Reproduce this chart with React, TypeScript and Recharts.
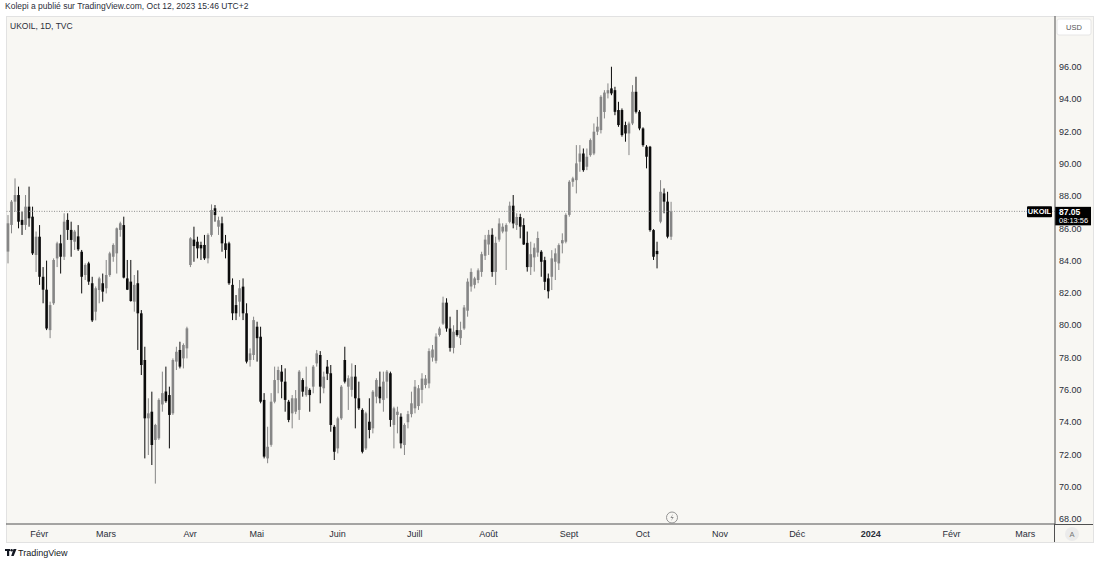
import React from "react";
import { Bar, ComposedChart, ReferenceLine, XAxis, YAxis } from "recharts";

// UKOIL daily candles (USD)
const opens = [
  84.56, 86.21, 87.65, 88.06, 86.52, 86.21, 87.34, 86.72, 84.35, 85.48,
  83.0, 82.2, 79.7, 81.36, 84.14, 85.07, 84.24, 86.52, 85.9, 85.17,
  85.5, 84.55, 83.11, 83.83, 82.6, 80.84, 82.18, 82.6, 82.29, 83.11,
  84.24, 84.45, 85.9, 86.2, 82.9, 82.7, 81.46, 82.6, 80.74, 77.85,
  74.24, 74.65, 72.9, 73.0, 75.1, 75.9, 75.68, 74.55, 77.75, 78.47,
  77.95, 78.57, 83.73, 85.3, 85.17, 84.97, 84.97, 84.14, 85.59, 87.24,
  86.1, 86.31, 85.07, 85.07, 82.5, 81.25, 81.46, 82.39, 80.74, 77.85,
  78.16, 79.91, 79.29, 75.38, 71.76, 72.6, 75.27, 76.61, 77.13, 76.51,
  75.27, 74.55, 74.65, 74.76, 76.61, 75.68, 76.0, 76.2, 77.64, 78.16,
  76.1, 77.44, 77.03, 73.72, 72.38, 74.24, 77.85, 76.2, 76.0, 76.82,
  75.48, 74.76, 72.38, 74.03, 73.62, 75.58, 76.2, 75.38, 76.51, 77.03,
  73.83, 74.45, 74.34, 72.59, 74.0, 74.5, 74.86, 75.0, 76.0, 76.3,
  76.4, 78.0, 77.8, 79.4, 80.1, 81.4, 79.8, 78.6, 79.7, 79.2,
  79.8, 80.9, 82.4, 82.5, 82.8, 83.3, 84.3, 85.0, 85.6, 83.3,
  85.3, 85.8, 85.8, 86.4, 87.4, 86.2, 86.7, 86.2, 85.1, 83.6,
  84.2, 84.5, 84.55, 84.03, 82.9, 83.0, 83.93, 83.83, 85.07, 85.17,
  86.83, 88.88, 88.98, 90.12, 90.63, 89.81, 90.53, 90.63, 91.98, 92.08,
  93.2, 94.35, 94.66, 94.55, 93.32, 93.32, 92.39, 91.87, 92.49, 94.45,
  93.21, 92.18, 91.05, 91.05, 85.89, 84.6, 86.41, 88.16, 87.65, 85.48,
];
const highs = [
  86.82, 87.75, 89.09, 88.58, 87.03, 88.06, 88.58, 87.34, 85.8, 86.2,
  83.6, 84.0, 81.46, 84.14, 85.17, 85.6, 86.93, 86.93, 86.41, 85.9,
  86.2, 84.66, 83.83, 83.93, 83.0, 82.4, 83.0, 83.2, 84.04, 84.55,
  85.07, 86.05, 86.41, 86.72, 84.04, 84.04, 83.11, 83.4, 80.94, 78.67,
  75.48, 75.89, 73.9, 75.48, 77.13, 77.44, 76.2, 77.95, 78.67, 78.98,
  78.88, 79.91, 85.45, 86.1, 85.48, 85.17, 85.59, 85.69, 87.48, 87.44,
  86.72, 86.72, 85.59, 85.17, 82.9, 81.87, 82.8, 82.9, 81.36, 78.57,
  80.53, 80.22, 79.91, 75.8, 73.72, 75.8, 77.44, 77.44, 77.54, 77.33,
  75.38, 75.68, 75.99, 77.23, 76.72, 77.44, 76.1, 77.54, 78.47, 78.4,
  77.13, 77.85, 77.54, 73.83, 74.34, 76.3, 78.67, 76.9, 77.64, 77.54,
  76.51, 74.86, 74.65, 75.48, 75.99, 76.72, 77.13, 77.13, 77.23, 77.13,
  74.96, 74.96, 74.55, 73.93, 74.7, 75.89, 76.61, 76.3, 77.03, 76.92,
  78.57, 78.78, 79.5, 79.91, 81.77, 81.67, 80.53, 80.0, 80.95, 80.22,
  81.25, 82.9, 83.52, 83.0, 83.52, 84.55, 85.59, 85.9, 86.0, 85.48,
  86.62, 86.31, 86.31, 87.65, 88.06, 86.93, 86.9, 86.62, 85.8, 85.17,
  85.07, 85.8, 84.65, 84.24, 83.2, 84.65, 84.76, 85.07, 85.69, 86.93,
  88.98, 89.19, 91.15, 91.15, 90.94, 90.94, 91.56, 92.49, 92.9, 94.24,
  94.55, 94.97, 96.0, 94.76, 93.83, 93.42, 92.6, 92.6, 94.86, 95.38,
  93.32, 92.25, 91.15, 91.1, 85.95, 85.17, 88.98, 88.47, 88.26, 87.64,
];
const lows = [
  83.83, 85.69, 87.03, 86.0, 85.59, 85.9, 86.1, 84.35, 83.3, 82.5,
  81.36, 79.7, 79.2, 81.26, 83.6, 83.2, 84.04, 85.28, 84.24, 84.66,
  84.6, 81.97, 82.8, 82.5, 80.2, 80.3, 81.36, 81.46, 81.97, 83.0,
  83.93, 83.2, 85.48, 82.9, 82.18, 81.46, 80.84, 78.47, 76.92, 71.76,
  71.97, 71.35, 70.2, 72.9, 74.65, 75.2, 72.38, 74.45, 77.23, 77.33,
  77.33, 77.95, 83.6, 83.93, 84.14, 84.04, 84.04, 83.83, 85.48, 86.41,
  85.59, 84.55, 84.14, 82.5, 80.32, 80.32, 80.53, 80.32, 77.64, 77.44,
  77.85, 77.75, 75.17, 71.76, 71.46, 72.48, 75.17, 75.79, 75.48, 74.65,
  74.0, 73.62, 74.5, 74.14, 75.58, 75.58, 74.65, 75.79, 77.44, 75.17,
  75.79, 76.61, 73.41, 71.66, 72.07, 74.14, 76.4, 74.76, 75.58, 73.62,
  74.76, 72.07, 72.28, 73.0, 73.31, 75.17, 75.17, 74.65, 75.48, 73.72,
  72.38, 73.31, 72.38, 71.97, 73.62, 74.3, 74.55, 74.76, 75.17, 76.1,
  76.1, 77.75, 77.64, 79.3, 80.02, 79.6, 78.37, 78.26, 79.3, 78.78,
  79.71, 80.53, 82.08, 82.28, 82.6, 83.0, 84.04, 84.35, 83.0, 82.49,
  85.17, 85.69, 83.42, 86.31, 86.0, 85.9, 85.38, 84.97, 83.32, 83.11,
  83.32, 84.24, 83.0, 82.18, 81.66, 82.18, 82.8, 83.42, 84.45, 85.07,
  86.72, 88.57, 88.16, 89.5, 89.5, 89.6, 90.43, 90.53, 91.77, 91.87,
  92.8, 94.04, 94.24, 93.0, 92.28, 91.67, 91.36, 90.53, 92.39, 93.11,
  92.07, 91.05, 89.71, 85.79, 84.04, 83.52, 86.31, 86.93, 85.38, 85.28,
];
const closes = [
  86.31, 87.65, 88.06, 86.41, 86.21, 87.34, 86.62, 84.45, 85.48, 83.0,
  82.2, 79.8, 81.25, 84.04, 85.07, 84.24, 86.41, 85.9, 85.28, 85.8,
  84.7, 83.0, 83.73, 82.7, 80.3, 82.29, 82.9, 82.08, 83.11, 84.45,
  84.97, 86.0, 86.31, 82.95, 82.2, 81.5, 82.5, 80.74, 77.54, 74.24,
  74.55, 72.59, 73.83, 75.38, 75.8, 75.3, 74.45, 77.85, 78.36, 77.44,
  78.78, 79.81, 85.38, 84.9, 84.76, 84.76, 84.14, 85.59, 87.13, 86.82,
  86.5, 85.07, 84.66, 82.6, 80.74, 80.74, 82.29, 80.74, 77.75, 78.26,
  80.32, 79.2, 75.27, 71.87, 72.48, 75.27, 76.61, 77.23, 76.51, 75.38,
  74.14, 75.48, 75.48, 77.13, 75.89, 76.2, 75.68, 77.44, 78.26, 76.2,
  76.82, 77.0, 73.83, 72.17, 74.24, 76.2, 76.51, 76.72, 76.82, 75.48,
  74.86, 72.17, 74.55, 73.52, 75.89, 76.61, 75.48, 76.51, 77.13, 74.14,
  74.86, 74.65, 72.69, 73.83, 74.5, 75.17, 76.2, 76.1, 76.7, 76.7,
  78.4, 78.5, 79.3, 79.8, 81.4, 79.8, 78.6, 79.6, 79.4, 79.7,
  81.1, 82.7, 83.3, 82.9, 83.4, 84.4, 85.3, 85.6, 83.3, 85.1,
  86.3, 86.1, 86.2, 87.4, 86.3, 86.7, 86.1, 85.0, 83.6, 84.4,
  84.8, 85.4, 83.93, 82.69, 82.1, 84.14, 84.45, 84.96, 85.27, 86.83,
  88.88, 89.09, 90.02, 90.63, 89.6, 90.43, 91.46, 91.98, 92.29, 94.14,
  94.4, 94.55, 94.35, 93.21, 92.39, 91.77, 91.87, 92.49, 94.45, 93.21,
  92.18, 91.15, 90.43, 85.89, 84.24, 84.4, 88.26, 87.65, 85.48, 87.05,
];

// time scale: real bars plus the empty future part of the axis
const TOTAL_BARS = 299;
const monthTickIdx = [9, 28, 52, 71, 94, 116, 137, 160, 181, 203, 225, 246, 269, 290];
const monthLabels = ["Févr", "Mars", "Avr", "Mai", "Juin", "Juill", "Août", "Sept", "Oct", "Nov", "Déc", "2024", "Févr", "Mars"];
const priceTicks = [68, 70, 72, 74, 76, 78, 80, 82, 84, 86, 88, 90, 92, 94, 96];
const symbol = "UKOIL";
const countdown = "08:13:56";

const UP = "#868686";
const DOWN = "#0c0c0c";
const BG = "#f8f7f3";
const TEXT = "#2a2e39";
const FONT = "'Liberation Sans', Arial, sans-serif";

const rows = Array.from({ length: TOTAL_BARS }, (_, i) =>
  i < closes.length
    ? { i, range: [lows[i], highs[i]], open: opens[i], close: closes[i], high: highs[i], low: lows[i] }
    : { i, range: null }
);
const lastPrice = closes[closes.length - 1];

function Candle(props: any) {
  const { x, y, width, height, payload } = props;
  if (!payload || payload.open == null) return null;
  const { open, close, high, low } = payload;
  const top = Math.min(y, y + height);
  const h = Math.abs(height);
  const span = high - low || 1;
  const py = (v: number) => top + ((high - v) / span) * h;
  const cx = x + width / 2;
  const color = close >= open ? UP : DOWN;
  const bTop = py(Math.max(open, close));
  const bBot = py(Math.min(open, close));
  return (
    <g>
      <line x1={cx} x2={cx} y1={top} y2={top + h} stroke={color} strokeWidth={1} />
      <rect x={cx - 1.3} y={bTop} width={2.6} height={Math.max(bBot - bTop, 1)} fill={color} />
    </g>
  );
}

function MonthTick(props: any) {
  const { x, y, payload } = props;
  const label = monthLabels[monthTickIdx.indexOf(payload.value)] ?? "";
  return (
    <text x={x} y={y + 8} textAnchor="middle" dominantBaseline="central" fontSize={9} fill={TEXT} fontFamily={FONT} fontWeight={label === "2024" ? 700 : 400}>
      {label}
    </text>
  );
}

function PriceTag(props: any) {
  const { viewBox } = props;
  if (!viewBox) return null;
  const right = viewBox.x + viewBox.width;
  const y = viewBox.y;
  return (
    <g fontFamily={FONT}>
      <rect x={right - 28} y={y - 5} width={25} height={11} fill="#000" rx={1} />
      <text x={right - 15.5} y={y + 0.5} textAnchor="middle" dominantBaseline="central" fontSize={7.5} fontWeight={700} fill="#fff">{symbol}</text>
      <rect x={right} y={y - 4.5} width={36} height={18.5} fill="#000" />
      <text x={right + 4} y={y + 1} dominantBaseline="central" fontSize={8.5} fontWeight={700} fill="#fff">{lastPrice.toFixed(2)}</text>
      <text x={right + 4} y={y + 9} dominantBaseline="central" fontSize={7.5} fill="#fff">{countdown}</text>
    </g>
  );
}

export default function App() {
  return (
    <div style={{ position: "absolute", left: 0, top: 0, width: 1100, height: 564, background: "#fff", fontFamily: FONT, color: TEXT, overflow: "hidden" }}>
      <div style={{ position: "absolute", left: 5, top: 1, fontSize: 8.5 }}>Kolepi a publié sur TradingView.com, Oct 12, 2023 15:46 UTC+2</div>
      <div style={{ position: "absolute", left: 6, top: 16, width: 1086, height: 525, background: BG, border: "1px solid #e2e2e2" }} />
      <div style={{ position: "absolute", left: 0, top: 0 }}>
        <ComposedChart width={1100} height={564} data={rows} margin={{ top: 16, right: 7, bottom: 22, left: 6 }} barCategoryGap={0}>
          <XAxis dataKey="i" type="category" ticks={monthTickIdx} interval={0} tick={<MonthTick />} tickLine={false} tickSize={0} tickMargin={2} axisLine={{ stroke: "#505050" }} height={18} />
          <YAxis
            orientation="right"
            domain={[67.7, 99.14]}
            allowDataOverflow
            ticks={priceTicks}
            width={38}
            tickSize={0}
            tickMargin={4}
            tickLine={false}
            axisLine={{ stroke: "#505050" }}
            tick={{ fontSize: 9, fill: TEXT, fontFamily: FONT }}
            tickFormatter={(v: number) => v.toFixed(2)}
          />
          <Bar dataKey="range" shape={<Candle />} isAnimationActive={false} />
          <ReferenceLine y={lastPrice} stroke="#8f8f8f" strokeDasharray="1 1.5" label={<PriceTag />} />
        </ComposedChart>
      </div>
      <svg width={1100} height={564} style={{ position: "absolute", left: 0, top: 0, pointerEvents: "none" }}>
        <line x1={1055} x2={1093} y1={524.5} y2={524.5} stroke="#505050" />
        <line x1={1054.5} x2={1054.5} y1={524} y2={542} stroke="#505050" />
        <rect x={1057} y={19} width={34} height={16} rx={2} fill="#fff" stroke="#e6e6e6" />
        <text x={1074} y={27.5} textAnchor="middle" dominantBaseline="central" fontSize={7.5} fill="#555" fontFamily={FONT}>USD</text>
        <text x={10} y={26} dominantBaseline="central" fontSize={8.5} fill={TEXT} fontFamily={FONT}>UKOIL, 1D, TVC</text>
        <circle cx={672} cy={517.5} r={5.5} fill="none" stroke="#8a8a8a" strokeWidth={0.9} />
        <path d="M673.2 513.8 L670.4 518 L672.4 518 L670.9 521.2 L673.8 516.9 L671.8 516.9 Z" fill="#8a8a8a" />
        <circle cx={1072} cy={534} r={7} fill="#ebebeb" />
        <text x={1072} y={534.5} textAnchor="middle" dominantBaseline="central" fontSize={7.5} fill="#777" fontFamily={FONT}>A</text>
        <g fill="#131722">
          <rect x={5} y={549} width={5} height={2} />
          <rect x={7} y={549} width={2.2} height={7} />
          <circle cx={11.6} cy={550.2} r={1.2} />
          <path d="M13.5 549 L16.5 549 L13.7 556 L11.2 556 Z" />
        </g>
        <text x={18} y={553} dominantBaseline="central" fontSize={9} fill="#131722" fontFamily={FONT}>TradingView</text>
      </svg>
    </div>
  );
}
